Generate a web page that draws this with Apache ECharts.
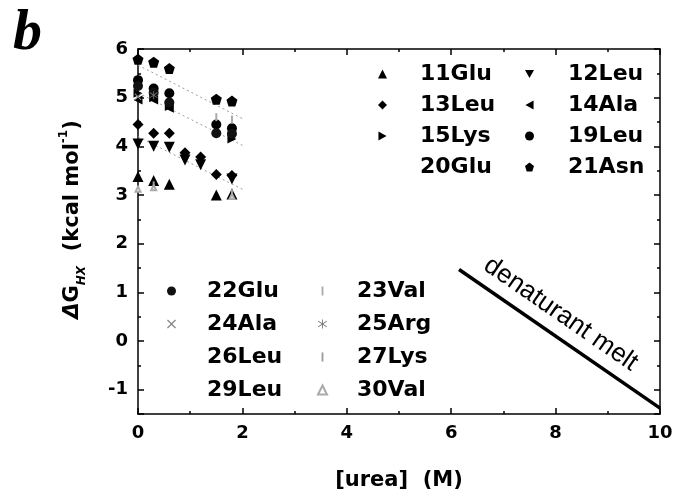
<!DOCTYPE html>
<html>
<head>
<meta charset="utf-8">
<script src="https://cdn.jsdelivr.net/npm/echarts@6/dist/echarts.min.js"></script>
<style>
html,body{margin:0;padding:0;background:#fff}
#main{width:687px;height:497px}
</style>
</head>
<body>
<div id="main"></div>
<script>
// ΔG_HX vs [urea] for each residue
var glu11 = [[0,3.38],[0.3,3.3],[0.6,3.22],[1.5,3.0],[1.8,3.02]];
var leu12 = [[0,4.05],[0.3,4.0],[0.6,3.98],[0.9,3.72],[1.2,3.62],[1.8,3.33]];
var leu13 = [[0,4.45],[0.3,4.27],[0.6,4.27],[0.9,3.87],[1.2,3.78],[1.5,3.42],[1.8,3.4]];
var ala14 = [[0,4.95],[0.3,4.95],[0.6,4.78]];
var lys15 = [[0,5.09],[0.3,5.0],[0.6,4.82],[1.8,4.15]];
var leu19 = [[0,5.36],[0.3,5.19],[0.6,5.09],[1.5,4.45],[1.8,4.37]];
var glu20 = [];
var asn21 = [[0,5.79],[0.3,5.73],[0.6,5.6],[1.5,4.97],[1.8,4.93]];
var glu22 = [[0,5.24],[0.3,5.1],[0.6,4.9],[1.5,4.27],[1.8,4.26]];
var val23 = [[1.5,4.6],[1.8,4.55]];
var ala24 = [[0,5.02]];
var arg25 = [[0.3,5.05]];
var leu26 = [];
var lys27 = [[0.3,3.2],[1.8,3.05]];
var leu29 = [];
var val30 = [[0,3.12],[0.3,3.15],[1.8,2.97]];

// dotted linear fits
var fitA = [[0,5.67],[2.0,4.57]];
var fitB = [[0,5.1],[2.0,4.02]];
var fitC = [[0,4.2],[2.05,3.09]];

// denaturant melt line
var melt = [[6.15,1.47],[10,-1.38]];

var xTicks = {min:0, max:10, interval:2};
var yRange = {min:-1.5, max:6};

var FONT = 'DejaVu Sans';
var sym = {
  up: 'triangle',
  down: 'path://M0,0L10,0L5,9Z',
  left: 'path://M9,0L9,10L0,5Z',
  right: 'path://M0,0L9,5L0,10Z',
  pent: 'path://M5,0L10,3.8L8.1,10L1.9,10L0,3.8Z',
  cross: 'path://M0,1L1,0L5,4L9,0L10,1L6,5L10,9L9,10L5,6L1,10L0,9L4,5Z',
  star: 'path://M4.5,0H5.5V10H4.5Z M0,2.2L0.5,1.4L10,7.8L9.5,8.6Z M0,7.8L9.5,1.4L10,2.2L0.5,8.6Z',
  bar: 'path://M0,0H2V10H0Z'
};

function pts(name, data, symbol, size, color) {
  return {
    name: name, type: 'scatter', data: data,
    symbol: symbol, symbolSize: size,
    itemStyle: {color: color, opacity: 1},
    z: 4
  };
}
function fit(data) {
  return {
    type: 'line', data: data, symbol: 'none', silent: true,
    lineStyle: {color: '#9a9a9a', width: 1, type: [2, 3]}, z: 2
  };
}

var chart = echarts.init(document.getElementById('main'));

var tickStyle = {color: '#000', width: 1.5};
var labelFont = {fontFamily: FONT, fontWeight: 'bold', fontSize: 18, color: '#000'};
var legText = {fontFamily: FONT, fontWeight: 'bold', fontSize: 22, color: '#000', lineHeight: 22};

function legend(names, left, top, gap, pad) {
  return {
    data: names, orient: 'vertical', left: left, top: top,
    itemGap: gap, itemWidth: 9, itemHeight: 9, selectedMode: false,
    textStyle: Object.assign({padding: [0, 0, 0, pad]}, legText)
  };
}
function frameAxis(extra) {
  return Object.assign({
    type: 'value',
    axisLine: {onZero: false, lineStyle: tickStyle},
    axisTick: {inside: true, length: 6, lineStyle: tickStyle},
    minorTick: {show: true, splitNumber: 2, length: 3, lineStyle: tickStyle},
    splitLine: {show: false},
    axisLabel: {show: false}
  }, extra);
}

chart.setOption({
  animation: false,
  title: {
    text: 'b', left: 8, top: 0,
    textStyle: {fontFamily: 'Liberation Serif', fontStyle: 'italic', fontWeight: 'bold', fontSize: 58, color: '#000'}
  },
  grid: {left: 138, right: 27, top: 49, bottom: 83},
  legend: [
    legend(['11Glu','13Leu','15Lys','20Glu'], 373, 58, 9, 28),
    legend(['12Leu','14Ala','19Leu','21Asn'], 520, 58, 9, 29),
    legend(['22Glu','24Ala','26Leu','29Leu'], 162, 275, 11, 26),
    legend(['23Val','25Arg','27Lys','30Val'], 312, 275, 11, 25)
  ],
  xAxis: [
    frameAxis({
      position: 'bottom',
      min: xTicks.min, max: xTicks.max, interval: xTicks.interval,
      axisLabel: Object.assign({margin: 10}, labelFont),
      name: '[urea]  (M)', nameLocation: 'middle', nameGap: 56,
      nameTextStyle: {fontFamily: FONT, fontWeight: 'bold', fontSize: 21, color: '#000'}
    }),
    frameAxis({position: 'top', min: xTicks.min, max: xTicks.max, interval: xTicks.interval})
  ],
  yAxis: [
    frameAxis({
      position: 'left',
      min: yRange.min, max: yRange.max, splitNumber: 7,
      axisLabel: Object.assign({margin: 10, showMinLabel: false}, labelFont),
      name: '{d|Δ}{g|G}{s|HX}  {n|(kcal mol}{p|-1}{n|)}',
      nameLocation: 'middle', nameGap: 50,
      nameTextStyle: {
        fontFamily: FONT, fontWeight: 'bold', fontSize: 21, color: '#000',
        padding: [0, 0, 0, 24],
        rich: {
          d: {fontFamily: FONT, fontStyle: 'italic', fontSize: 21, lineHeight: 30, color: '#000'},
          g: {fontFamily: FONT, fontWeight: 'bold', fontSize: 21, lineHeight: 30, color: '#000'},
          s: {fontFamily: FONT, fontWeight: 'bold', fontStyle: 'italic', fontSize: 12, verticalAlign: 'bottom', color: '#000'},
          n: {fontFamily: FONT, fontWeight: 'bold', fontSize: 21, lineHeight: 30, color: '#000'},
          p: {fontFamily: FONT, fontWeight: 'bold', fontSize: 12, verticalAlign: 'top', color: '#000'}
        }
      }
    }),
    frameAxis({position: 'right', min: yRange.min, max: yRange.max, splitNumber: 7})
  ],
  series: [
    fit(fitA), fit(fitB), fit(fitC),
    pts('11Glu', glu11, sym.up, 11, '#000'),
    pts('12Leu', leu12, sym.down, 11, '#000'),
    pts('13Leu', leu13, 'diamond', 11, '#000'),
    pts('14Ala', ala14, sym.left, 9, '#000'),
    pts('15Lys', lys15, sym.right, 9, '#000'),
    pts('19Leu', leu19, 'circle', 10, '#000'),
    pts('20Glu', glu20, 'circle', 8, 'rgba(0,0,0,0)'),
    pts('21Asn', asn21, sym.pent, 11, '#000'),
    pts('22Glu', glu22, 'circle', 10, '#111'),
    pts('23Val', val23, sym.bar, [2, 8], '#aaa'),
    pts('24Ala', ala24, sym.cross, 7, '#888'),
    pts('25Arg', arg25, sym.star, 8, '#777'),
    pts('26Leu', leu26, 'circle', 8, 'rgba(0,0,0,0)'),
    pts('27Lys', lys27, sym.bar, [2, 8], '#999'),
    pts('29Leu', leu29, 'circle', 8, 'rgba(0,0,0,0)'),
    pts('30Val', val30, 'emptyTriangle', 5, '#aaa'),
    {
      type: 'scatter', data: [], silent: true,
      markLine: {
        silent: true, symbol: ['none', 'none'],
        lineStyle: {color: '#000', width: 3.5, type: 'solid'},
        label: {
          show: true, position: 'insideMiddleTop', distance: 8,
          padding: [0, 26, 0, 0],
          formatter: 'denaturant melt',
          fontFamily: 'Liberation Sans', fontSize: 26, color: '#000'
        },
        data: [[{coord: melt[0]}, {coord: melt[1]}]]
      }
    }
  ]
});
</script>
</body>
</html>
